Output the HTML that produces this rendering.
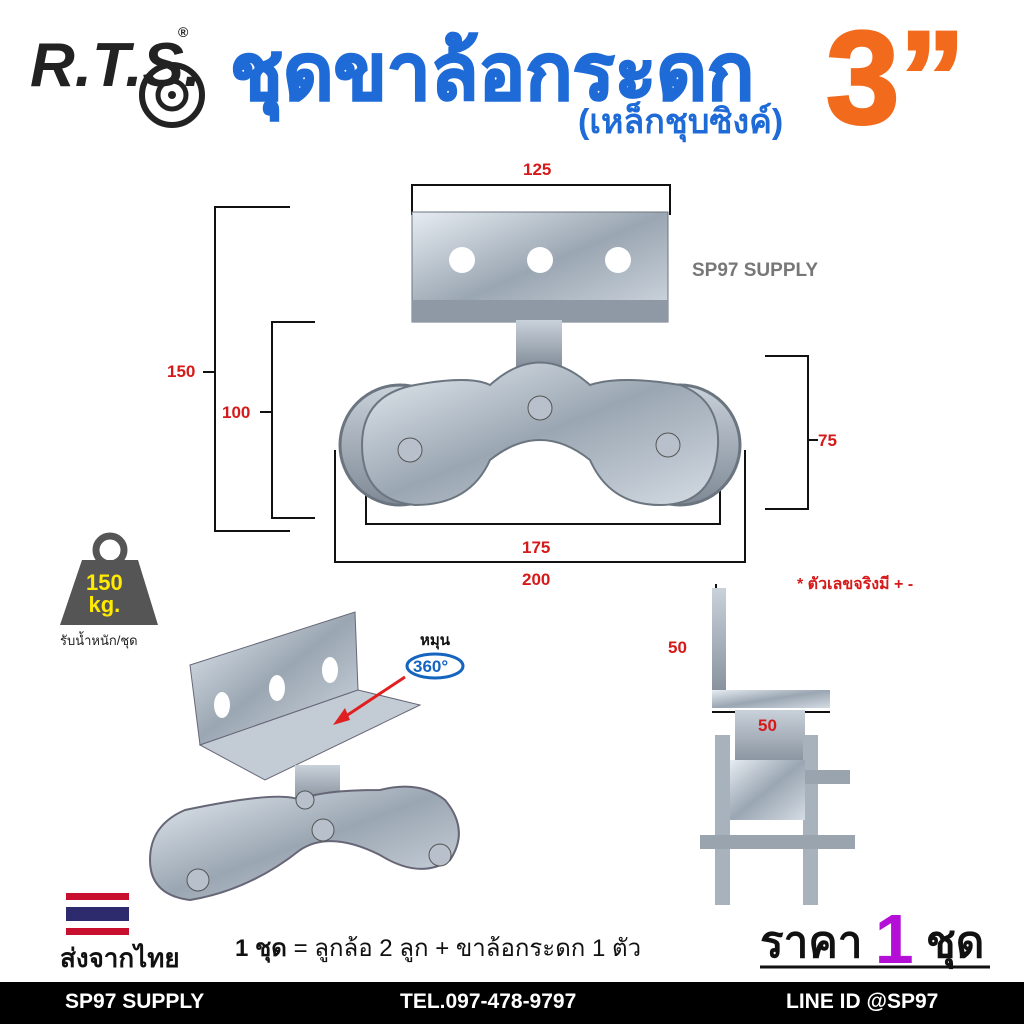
<!DOCTYPE html>
<html><head><meta charset="utf-8"><style>
body{margin:0;width:1024px;height:1024px;background:#fff;overflow:hidden;position:relative;font-family:"Liberation Sans","Noto Sans CJK SC",sans-serif}
.t{position:absolute;white-space:nowrap;font-weight:bold}
.r{color:#d61a1a;font-size:17px}
</style></head><body>
<svg width="1024" height="1024" style="position:absolute;left:0;top:0">
<defs>
<linearGradient id="m" x1="0" y1="0" x2="1" y2="1"><stop offset="0" stop-color="#e6ecf2"/><stop offset=".5" stop-color="#9aa6b2"/><stop offset="1" stop-color="#d4dbe3"/></linearGradient>
<linearGradient id="m2" x1="0" y1="0" x2="0" y2="1"><stop offset="0" stop-color="#c9d1da"/><stop offset="1" stop-color="#7f8a96"/></linearGradient>
</defs>
<circle cx="172" cy="95" r="30" fill="#fff" stroke="#222" stroke-width="6"/><circle cx="172" cy="95" r="14" fill="none" stroke="#222" stroke-width="5"/><circle cx="172" cy="95" r="4" fill="#222"/>
<g stroke="#111" stroke-width="2" fill="none">
<path d="M412 215V185H670V215"/>
<path d="M290 207H215V531H290"/><path d="M203 372H215"/>
<path d="M315 322H272V518H315"/><path d="M260 412H272"/>
<path d="M765 356H808V509H765"/><path d="M808 440H818"/>
<path d="M366 450V524H720V450"/>
<path d="M335 450V562H745V450"/>
<path d="M716 584V708"/><path d="M712 712H830"/>
</g>
<rect x="412" y="212" width="256" height="110" fill="url(#m)" stroke="#6b7580"/>
<rect x="412" y="300" width="256" height="22" fill="#8e99a5"/>
<circle cx="462" cy="260" r="13" fill="#fff"/><circle cx="540" cy="260" r="13" fill="#fff"/><circle cx="618" cy="260" r="13" fill="#fff"/>
<rect x="516" y="320" width="46" height="50" fill="url(#m2)"/>
<circle cx="400" cy="445" r="60" fill="url(#m2)" stroke="#6b7580" stroke-width="3"/>
<circle cx="680" cy="445" r="60" fill="url(#m2)" stroke="#6b7580" stroke-width="3"/>
<path d="M415 385Q470 375 490 385Q540 340 590 385Q620 375 680 385Q720 400 718 445Q715 505 660 505Q610 505 590 460Q540 420 490 460Q470 505 415 505Q362 500 362 445Q362 395 415 385Z" fill="url(#m)" stroke="#6b7580" stroke-width="2"/>
<g fill="#b8c1cb" stroke="#555"><circle cx="410" cy="450" r="12"/><circle cx="540" cy="408" r="12"/><circle cx="668" cy="445" r="12"/></g>
<path d="M82 560L138 560L158 625L60 625Z" fill="#555"/><circle cx="110" cy="550" r="14" fill="none" stroke="#555" stroke-width="7"/>
<polygon points="190,665 355,612 358,690 200,745" fill="url(#m)" stroke="#667"/>
<polygon points="200,745 358,690 420,705 265,780" fill="#c3ccd5" stroke="#667"/>
<g fill="#fff"><ellipse cx="222" cy="705" rx="8" ry="13"/><ellipse cx="277" cy="688" rx="8" ry="13"/><ellipse cx="330" cy="670" rx="8" ry="13"/></g>
<rect x="295" y="765" width="45" height="40" fill="url(#m2)"/>
<path d="M185 810Q280 790 300 800Q320 790 380 790Q420 780 445 800Q470 830 450 860Q420 880 380 855Q330 830 300 850Q250 890 190 900Q150 895 150 860Q150 825 185 810Z" fill="url(#m)" stroke="#667" stroke-width="2"/>
<g fill="#b8c1cb" stroke="#555"><circle cx="198" cy="880" r="11"/><circle cx="323" cy="830" r="11"/><circle cx="440" cy="855" r="11"/><circle cx="305" cy="800" r="9"/></g>
<line x1="405" y1="677" x2="340" y2="720" stroke="#e02020" stroke-width="3"/><polygon points="333,725 345,708 350,720" fill="#e02020"/>
<ellipse cx="435" cy="666" rx="28" ry="12" fill="none" stroke="#1565c0" stroke-width="3"/>
<rect x="712" y="588" width="14" height="118" fill="url(#m2)"/><rect x="712" y="690" width="118" height="18" fill="url(#m)"/>
<rect x="735" y="710" width="70" height="60" fill="url(#m2)"/>
<rect x="715" y="735" width="15" height="170" fill="#a8b2bc"/><rect x="803" y="735" width="15" height="170" fill="#a8b2bc"/>
<rect x="730" y="760" width="75" height="60" fill="url(#m)"/>
<rect x="700" y="835" width="155" height="14" fill="#9aa4ae"/>
<rect x="805" y="770" width="45" height="14" fill="#9aa4ae"/>
<rect x="66" y="893" width="63" height="42" fill="#c8102e"/><rect x="66" y="900" width="63" height="28" fill="#fff"/><rect x="66" y="907" width="63" height="14" fill="#2d2a6e"/>
<line x1="760" y1="967" x2="990" y2="967" stroke="#111" stroke-width="3"/>
<rect x="0" y="982" width="1024" height="42" fill="#000"/>
</svg>
<div class="t" style="left:30px;top:30px;font-size:62px;font-style:italic;color:#222">R.T.S.</div>
<div class="t" style="left:178px;top:24px;font-size:14px;color:#222">®</div>
<div class="t" style="left:230px;top:10px;font-size:78px;color:#1e6ad6;-webkit-text-stroke:2px #1e6ad6">ชุดขาล้อกระดก</div>
<div class="t" style="left:578px;top:94px;font-size:34px;color:#1e6ad6">(เหล็กชุบซิงค์)</div>
<div class="t" style="left:826px;top:2px;font-size:132px;color:#f26b1d;-webkit-text-stroke:3px #f26b1d">3”</div>
<div class="t r" style="left:523px;top:160px">125</div>
<div class="t r" style="left:167px;top:362px">150</div>
<div class="t r" style="left:222px;top:403px">100</div>
<div class="t r" style="left:818px;top:431px">75</div>
<div class="t r" style="left:522px;top:538px">175</div>
<div class="t r" style="left:522px;top:570px">200</div>
<div class="t r" style="left:668px;top:638px">50</div>
<div class="t r" style="left:758px;top:716px">50</div>
<div class="t r" style="left:797px;top:572px;font-size:16px">* ตัวเลขจริงมี + -</div>
<div class="t" style="left:692px;top:260px;font-size:19px;color:#777">SP97 SUPPLY</div>
<div class="t" style="left:86px;top:572px;font-size:22px;color:#ffea00;line-height:22px;text-align:center">150<br>kg.</div>
<div class="t" style="left:60px;top:630px;font-size:13px;color:#222;font-weight:normal">รับน้ำหนัก/ชุด</div>
<div class="t" style="left:420px;top:628px;font-size:15px;color:#111">หมุน</div>
<div class="t" style="left:413px;top:657px;font-size:17px;color:#1565c0">360°</div>
<div class="t" style="left:60px;top:938px;font-size:26px;color:#111">ส่งจากไทย</div>
<div class="t" style="left:235px;top:928px;font-size:24px;color:#111">1 ชุด <span style="font-weight:normal">= ลูกล้อ 2 ลูก + ขาล้อกระดก 1 ตัว</span></div>
<div class="t" style="left:760px;top:893px;font-size:44px;color:#111">ราคา <span style="color:#b40fd6;font-size:70px;position:relative;top:6px">1</span> ชุด</div>
<div class="t" style="left:65px;top:990px;font-size:21px;color:#fff">SP97 SUPPLY</div>
<div class="t" style="left:400px;top:990px;font-size:21px;color:#fff">TEL.097-478-9797</div>
<div class="t" style="left:786px;top:990px;font-size:21px;color:#fff">LINE ID @SP97</div>
</body></html>
